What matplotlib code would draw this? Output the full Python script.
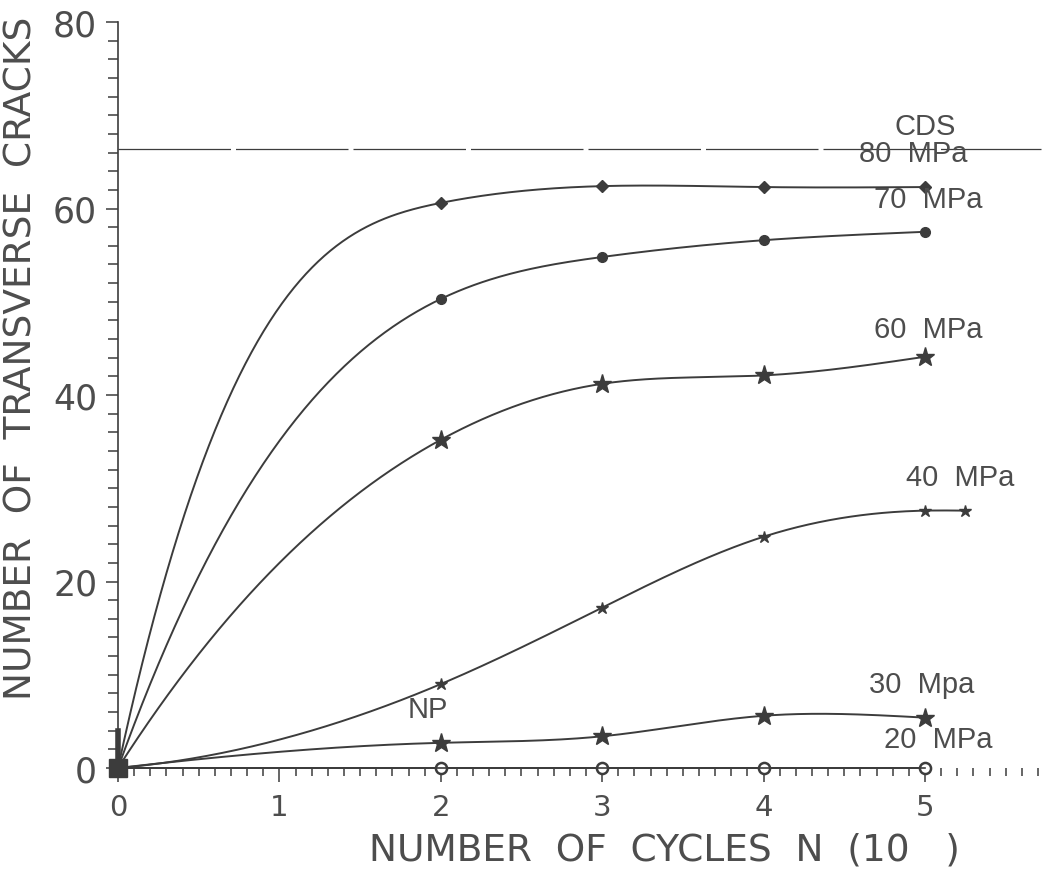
import matplotlib

matplotlib.use("Agg")
import matplotlib.pyplot as plt
import numpy as np
from matplotlib.ticker import MultipleLocator

# Crack counts vs. cycles, one series per stress amplitude
cycles = [0, 2, 3, 4, 5]
cracks_80 = [0, 60.6, 62.4, 62.3, 62.3]
cracks_70 = [0, 50.3, 54.8, 56.6, 57.5]
cracks_60 = [0, 35.2, 41.2, 42.1, 44.1]
cycles_40 = [0, 2, 3, 4, 5, 5.25]
cracks_40 = [0, 9.0, 17.2, 24.8, 27.6, 27.6]
cracks_30 = [0, 2.7, 3.4, 5.6, 5.4]
cracks_20 = [0, 0, 0, 0, 0]
cds_level = 66.4

labels = ["80  MPa", "70  MPa", "60  MPa", "40  MPa", "30  Mpa", "20  MPa"]

INK = "#3c3c3c"
TEXT = "#4d4d4d"


def smooth_curve(x, y, start_slope=None, num=400):
    """Cubic spline through (x, y); clamped start slope if given, natural otherwise."""
    x = np.asarray(x, float)
    y = np.asarray(y, float)
    n = len(x)
    h = np.diff(x)
    A = np.zeros((n, n))
    b = np.zeros(n)
    if start_slope is None:
        A[0, 0] = 1.0
    else:
        A[0, 0], A[0, 1] = 2 * h[0], h[0]
        b[0] = 6 * ((y[1] - y[0]) / h[0] - start_slope)
    A[-1, -1] = 1.0
    for i in range(1, n - 1):
        A[i, i - 1] = h[i - 1]
        A[i, i] = 2 * (h[i - 1] + h[i])
        A[i, i + 1] = h[i]
        b[i] = 6 * ((y[i + 1] - y[i]) / h[i] - (y[i] - y[i - 1]) / h[i - 1])
    M = np.linalg.solve(A, b)
    xs = np.linspace(x[0], x[-1], num)
    idx = np.clip(np.searchsorted(x, xs) - 1, 0, n - 2)
    x0, x1 = x[idx], x[idx + 1]
    hh = x1 - x0
    t0, t1 = x1 - xs, xs - x0
    ys = (M[idx] * t0**3 + M[idx + 1] * t1**3) / (6 * hh) \
        + (y[idx] / hh - M[idx] * hh / 6) * t0 \
        + (y[idx + 1] / hh - M[idx + 1] * hh / 6) * t1
    return xs, ys


fig = plt.figure(figsize=(10.51, 8.70), dpi=100)
ax = fig.add_axes([118 / 1051, 101 / 870, 928 / 1051, 746 / 870])
ax.set_xlim(0, 5.75)
ax.set_ylim(0, 80)

series = [
    (cycles, cracks_80, 80, dict(marker="D", ms=6.5)),
    (cycles, cracks_70, 48, dict(marker="o", ms=7)),
    (cycles, cracks_60, 27, dict(marker="*", ms=14)),
    (cycles_40, cracks_40, 1.5, dict(marker="*", ms=9)),
    (cycles, cracks_30, 2.0, dict(marker="*", ms=14)),
]
for xs_d, ys_d, s0, mk in series:
    xs, ys = smooth_curve(xs_d, ys_d, start_slope=s0)
    ax.plot(xs, ys, color=INK, lw=1.4, clip_on=False)
    ax.plot(xs_d[1:], ys_d[1:], ls="none", color=INK, mfc=INK, mec=INK,
            clip_on=False, **mk)

# 20 MPa stays on the baseline
ax.plot(cycles, cracks_20, color=INK, lw=1.4, clip_on=False)
ax.plot(cycles[1:], cracks_20[1:], ls="none", marker="o", ms=8, mfc="white",
        mec=INK, mew=1.8, clip_on=False)
ax.plot([0], [0], ls="none", marker="s", ms=13, color=INK, clip_on=False)
ax.plot([0, 0], [0, 4], color=INK, lw=4, clip_on=False)

# Characteristic damage state
ax.plot([0, 5.72], [cds_level, cds_level], color=INK, lw=0.9,
        dashes=(90, 4), clip_on=False)

txt = dict(color=TEXT, fontsize=21, ha="center", va="center",
           family=["Liberation Sans", "DejaVu Sans"])
ax.text(5.0, 68.8, "CDS", **txt)
ax.text(4.93, 66.0, labels[0], **txt)
ax.text(5.02, 61.0, labels[1], **txt)
ax.text(5.02, 47.1, labels[2], **txt)
ax.text(5.22, 31.2, labels[3], **txt)
ax.text(4.98, 9.0, labels[4], **txt)
ax.text(5.08, 3.1, labels[5], **txt)
ax.text(1.92, 6.3, "NP", **txt)

for side in ("top", "right"):
    ax.spines[side].set_visible(False)
ax.spines["left"].set_color(INK)
ax.spines["bottom"].set_color(INK)
ax.spines["bottom"].set_bounds(0, 5)
ax.spines["left"].set_linewidth(1.2)
ax.spines["bottom"].set_linewidth(1.2)

ax.xaxis.set_major_locator(MultipleLocator(1))
ax.xaxis.set_minor_locator(MultipleLocator(0.1))
ax.yaxis.set_major_locator(MultipleLocator(20))
ax.yaxis.set_minor_locator(MultipleLocator(2))
ax.tick_params(which="both", direction="out", color=INK, width=1.1)
ax.tick_params(axis="y", which="major", length=9, pad=6, labelsize=25, labelcolor=TEXT)
ax.tick_params(axis="y", which="minor", length=7)
ax.tick_params(axis="x", which="major", length=10, pad=8, labelsize=21, labelcolor=TEXT)
ax.tick_params(axis="x", which="minor", length=6)
for lab in ax.get_xticklabels():
    lab.set_family(["Liberation Sans Narrow", "DejaVu Sans"])

ax.set_xlabel("NUMBER  OF  CYCLES  N  (10   )", fontsize=27, color=TEXT,
              family=["Liberation Sans Narrow", "DejaVu Sans"])
ax.xaxis.set_label_coords(0.589, -0.085)
ax.set_ylabel("NUMBER  OF  TRANSVERSE  CRACKS", fontsize=27, color=TEXT)
ax.yaxis.set_label_coords(-0.085, 0.55)

fig.savefig("out.png", dpi=100, facecolor="white")
